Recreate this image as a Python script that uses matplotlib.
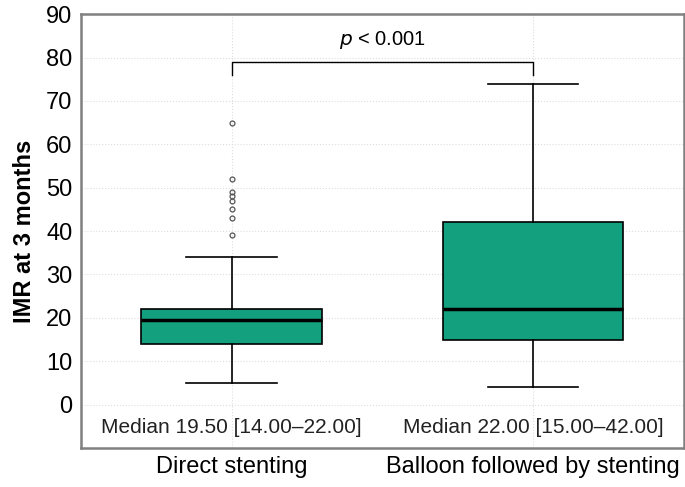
import matplotlib
matplotlib.use("Agg")
import matplotlib.pyplot as plt

plt.rcParams['font.family'] = ['Liberation Sans', 'DejaVu Sans']

# data
groups = ["Direct stenting", "Balloon followed by stenting"]
q1 = [14.0, 15.0]
med = [19.5, 22.0]
q3 = [22.0, 42.0]
whislo = [5.0, 4.0]
whishi = [34.0, 74.0]
fliers = [[65, 52, 49, 48, 47, 45, 43, 39], []]
median_labels = ["Median 19.50 [14.00\u201322.00]", "Median 22.00 [15.00\u201342.00]"]
p_text = "$\\it{p}$ < 0.001"

stats = []
for i in range(len(groups)):
    stats.append(dict(q1=q1[i], med=med[i], q3=q3[i], whislo=whislo[i],
                      whishi=whishi[i], fliers=fliers[i], label=groups[i]))

fig, ax = plt.subplots(figsize=(6.85, 4.87), dpi=100)
fig.subplots_adjust(left=0.118, right=0.998, top=0.971, bottom=0.08)

ax.bxp(stats, positions=[1, 2], widths=0.6, patch_artist=True,
       boxprops=dict(facecolor='#13a07e', edgecolor='black', linewidth=1.2),
       medianprops=dict(color='black', linewidth=2.5),
       whiskerprops=dict(color='black', linewidth=1.2),
       capprops=dict(color='black', linewidth=1.2),
       capwidths=0.3,
       flierprops=dict(marker='o', markersize=3.5, markerfacecolor='none',
                       markeredgecolor='#555555', markeredgewidth=0.9))

ax.set_xlim(0.5, 2.5)
ax.set_ylim(-10, 90)
ax.set_yticks(range(0, 91, 10))
ax.set_xticks([1, 2])
ax.set_xticklabels(groups, fontsize=17)
ax.tick_params(axis='y', labelsize=17, length=0, pad=6)
ax.tick_params(axis='x', length=0, pad=6)
ax.set_ylabel("IMR at 3 months", fontsize=17, fontweight='bold', labelpad=7)

ax.grid(True, color='#dddddd', linestyle=':', linewidth=0.8)
ax.set_axisbelow(True)
for s in ax.spines.values():
    s.set_color('#808080')
    s.set_linewidth(1.8)

# significance bracket
ax.plot([1, 1, 2, 2], [76, 79, 79, 76], color='black', linewidth=1.0)
ax.text(1.5, 84, p_text, ha='center', va='center', fontsize=14.5)

for x, lab in zip([1, 2], median_labels):
    ax.text(x, -5.2, lab, ha='center', va='center', fontsize=15, color='#222222')

fig.savefig("out.png", dpi=100)
